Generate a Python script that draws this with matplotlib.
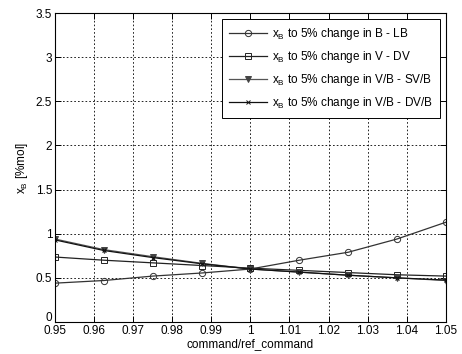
import matplotlib
matplotlib.use("Agg")
import matplotlib.pyplot as plt
import matplotlib.transforms as mtransforms
import numpy as np

plt.rcParams['font.family'] = ['Liberation Sans', 'DejaVu Sans']

x = [0.95, 0.9625, 0.975, 0.9875, 1.0, 1.0125, 1.025, 1.0375, 1.05]
b_lb = [0.44, 0.47, 0.52, 0.555, 0.60, 0.70, 0.79, 0.94, 1.13]
v_dv = [0.736, 0.70, 0.67, 0.64, 0.61, 0.585, 0.56, 0.535, 0.52]
vb_svb = [0.94, 0.82, 0.74, 0.665, 0.60, 0.565, 0.53, 0.50, 0.47]
vb_dvb = [0.93, 0.81, 0.73, 0.66, 0.60, 0.565, 0.53, 0.50, 0.475]

labels = [r'x$_\mathregular{B}$ to 5% change in B - LB',
          r'x$_\mathregular{B}$ to 5% change in V - DV',
          r'x$_\mathregular{B}$ to 5% change in V/B - SV/B',
          r'x$_\mathregular{B}$ to 5% change in V/B - DV/B']

fs = 8.5
fig = plt.figure(figsize=(4.62, 3.54), dpi=100)
ax = fig.add_axes([0.119, 0.0904, 0.846, 0.8728])

ax.plot(x, b_lb, color='#333333', lw=0.9, marker='o', ms=4.5, mfc='none', mec='#333333', mew=0.7, label=labels[0])
ax.plot(x, v_dv, color='#222222', lw=0.9, marker='s', ms=4.5, mfc='none', mec='#222222', mew=0.7, label=labels[1])
ax.plot(x, vb_svb, color='#555555', lw=0.9, marker='v', ms=4, mfc='#444444', mec='#444444', mew=0.7, label=labels[2])
ax.plot(x, vb_dvb, color='#111111', lw=0.9, marker='x', ms=3.5, mec='#111111', mew=0.7, label=labels[3])

ax.set_xlim(0.95, 1.05)
ax.set_ylim(0, 3.5)
ax.set_xticks(np.arange(0.95, 1.0501, 0.01))
ax.set_xticklabels(['0.95', '0.96', '0.97', '0.98', '0.99', '1', '1.01', '1.02', '1.03', '1.04', '1.05'])
ax.set_yticks(np.arange(0, 3.51, 0.5))
ax.set_yticklabels(['0', '0.5', '1', '1.5', '2', '2.5', '3', '3.5'])
ax.tick_params(direction='in', length=4, labelsize=fs, width=0.7, top=True, right=True, pad=2)
ax.grid(True, color='black', linestyle=(0, (2, 2.5)), linewidth=0.6)
for s in ax.spines.values():
    s.set_linewidth(0.8)

# nudge the "0" y tick label up slightly so it does not collide with "0.95"
lbl0 = ax.get_yticklabels()[0]
lbl0.set_transform(lbl0.get_transform() + mtransforms.ScaledTranslation(0, 4/72, fig.dpi_scale_trans))

ax.set_xlabel('command/ref_command', fontsize=fs, labelpad=1)
ax.set_ylabel(r'x$_\mathregular{B}$ [%mol]', fontsize=fs, labelpad=4)

leg = ax.legend(loc='upper right', fontsize=fs, fancybox=False, edgecolor='black',
                framealpha=1, borderaxespad=0.5, handlelength=3.2, labelspacing=0.6,
                borderpad=0.6, handletextpad=0.4)
leg.get_frame().set_linewidth(0.7)

fig.savefig('out.png', dpi=100)
